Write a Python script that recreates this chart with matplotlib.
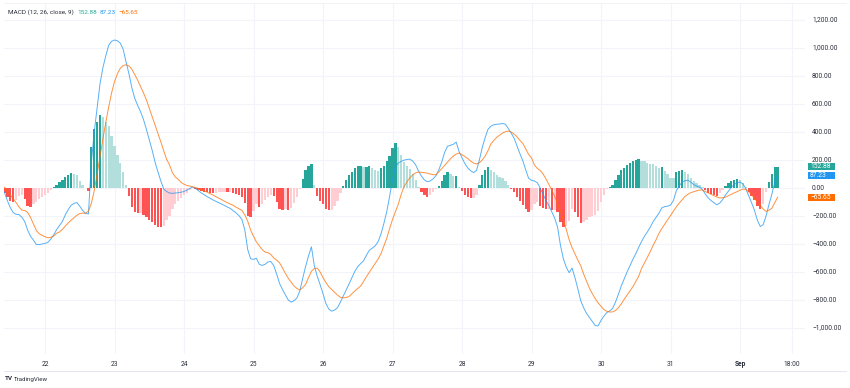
import matplotlib
matplotlib.use("Agg")
import matplotlib.pyplot as plt
from matplotlib.patches import Rectangle
from matplotlib.lines import Line2D
import numpy as np

plt.rcParams['font.family'] = ['Roboto', 'DejaVu Sans']

W, H = 850, 388

# ---- data (hourly bars, Aug 21 10:00 -> Sep 1 13:00) ----
start_day = 21 + 10 / 24.0

macd = [
    -30, -90, -140, -175, -188, -190, -208, -240, -300, -345,
    -372, -403, -405, -400, -396, -388, -365, -335, -298, -268,
    -240, -192, -155, -124, -110, -104, -130, -160, -182, -185,
    180, 400, 575, 745, 860, 945, 1020, 1048, 1057, 1052,
    1035, 990, 900, 815, 715, 640, 590, 545, 490, 420,
    345, 270, 185, 115, 50, -8, -25, -36, -38, -36,
    -34, -30, -25, -15, -3, 7, -3, -20, -36, -48,
    -62, -73, -85, -95, -105, -115, -125, -136, -146, -163,
    -178, -198, -225, -300, -440, -505, -510, -502, -545, -553,
    -545, -528, -525, -555, -615, -682, -725, -762, -800, -815,
    -805, -785, -735, -645, -560, -485, -420, -555, -630, -690,
    -755, -825, -865, -880, -872, -855, -815, -772, -728, -685,
    -640, -595, -562, -540, -520, -480, -445, -430, -413, -385,
    -330, -255, -170, -60, 60, 150, 178, 190, 199, 204,
    206, 192, 165, 120, 85, 58, 45, 50, 65, 88,
    130, 185, 255, 298, 305, 312, 328, 260, 215, 174,
    143, 123, 110, 125, 200, 290, 360, 420, 442, 452,
    455, 457, 461, 455, 425, 392, 355, 300, 245, 195,
    130, 70, 55, 50, 38, 0, -45, -88, -125, -170,
    -215, -280, -410, -505, -565, -605, -572, -640, -720, -805,
    -855, -895, -925, -953, -982, -985, -946, -915, -890, -878,
    -860, -815, -760, -700, -650, -600, -555, -510, -470, -425,
    -382, -345, -314, -280, -240, -210, -180, -142, -133, -130,
    -122, -90, -20, 15, 42, 52, 56, 42, 25, 14,
    5, -10, -42, -70, -90, -105, -120, -108, -83, -50,
    -22, 5, 25, 38, 42, 30, -5, -55, -105, -160,
    -230, -275, -262, -200, -118, -45, 43, 87.23,
]

signal = [
    5, -25, -50, -75, -103, -135, -158, -160, -175, -210,
    -257, -303, -327, -338, -348, -355, -353, -343, -323, -314,
    -295, -272, -250, -230, -212, -195, -182, -180, -180, -165,
    -110, -20, 100, 225, 350, 470, 580, 680, 760, 815,
    855, 875, 880, 872, 848, 810, 770, 725, 680, 630,
    570, 510, 448, 390, 330, 265, 205, 165, 110, 78,
    62, 40, 27, 18, 14, 8, 4, -4, -12, -20,
    -30, -40, -50, -62, -73, -83, -95, -105, -115, -124,
    -137, -148, -160, -192, -237, -300, -345, -385, -412, -440,
    -458, -462, -475, -500, -515, -535, -570, -610, -645, -672,
    -700, -718, -728, -712, -688, -640, -595, -575, -572, -600,
    -640, -675, -705, -725, -745, -765, -780, -785, -782, -775,
    -755, -735, -718, -700, -668, -633, -602, -570, -540, -508,
    -470, -415, -360, -290, -225, -170, -115, -45, 10, 45,
    72, 95, 108, 114, 112, 109, 106, 100, 95, 95,
    115, 138, 162, 185, 208, 228, 242, 250, 238, 225,
    210, 192, 178, 172, 180, 200, 228, 268, 315, 340,
    362, 378, 393, 402, 407, 400, 385, 366, 340, 318,
    280, 240, 215, 165, 140, 125, 100, 65, 25, -15,
    -60, -110, -165, -230, -295, -370, -425, -470, -515, -555,
    -615, -665, -715, -755, -790, -820, -845, -868, -880, -886,
    -885, -875, -855, -828, -795, -765, -735, -705, -668, -632,
    -575, -535, -495, -455, -410, -370, -325, -290, -258, -228,
    -197, -165, -135, -108, -85, -60, -45, -33, -27, -20,
    -15, -14, -25, -35, -45, -55, -64, -71, -70, -65,
    -55, -45, -35, -26, -16, -8, -10, -28, -48, -75,
    -100, -125, -150, -168, -158, -145, -105, -65.65,
]

n = min(len(macd), len(signal))
macd = np.array(macd[:n], dtype=float)
signal = np.array(signal[:n], dtype=float)
hist = macd - signal
xs = start_day + np.arange(n) / 24.0

day_ticks = [22, 23, 24, 25, 26, 27, 28, 29, 30, 31, 32, 32.75]
day_labels = ["22", "23", "24", "25", "26", "27", "28", "29", "30", "31", "Sep", "18:00"]
y_ticks = [1200, 1000, 800, 600, 400, 200, 0, -200, -400, -600, -800, -1000]

# colours
C_UP_GROW, C_UP_FALL = "#26A69A", "#B2DFDB"
C_DN_GROW, C_DN_FALL = "#FF5252", "#FFCDD2"
C_MACD, C_SIG = "#2196F3", "#FF6D00"
GRID = "#f2f4f9"
TXT = "#2a2e39"

colors = []
for i, h in enumerate(hist):
    p = hist[i - 1] if i > 0 else 0.0
    if h >= 0:
        colors.append(C_UP_GROW if h > p else C_UP_FALL)
    else:
        colors.append(C_DN_GROW if h < p else C_DN_FALL)

# ---- geometry (pixel based) ----
PANE_L, PANE_R, PANE_T, PANE_B = 4, 805, 3, 354
def px2day(px):
    return 22 + (px - 45) / 69.5
def py2val(py):
    return (188 - py) / 0.14

fig = plt.figure(figsize=(W / 100, H / 100), dpi=100)
fig.patch.set_facecolor("white")
ax = fig.add_axes([PANE_L / W, 1 - PANE_B / H, (PANE_R - PANE_L) / W, (PANE_B - PANE_T) / H])
ax.set_xlim(px2day(PANE_L), px2day(PANE_R))
ax.set_ylim(py2val(PANE_B), py2val(PANE_T))
for s in ax.spines.values():
    s.set_visible(False)
ax.set_xticks([])
ax.set_yticks([])

for v in y_ticks:
    ax.axhline(v, color=GRID, lw=0.8, zorder=0)
for d in day_ticks:
    ax.axvline(d, color=GRID, lw=0.8, zorder=0)

ax.bar(xs, hist, width=0.8 / 24, color=colors, linewidth=0, zorder=2)
ax.plot(xs, macd, color=C_MACD, lw=0.7, alpha=0.75, zorder=3)
ax.plot(xs, signal, color=C_SIG, lw=0.7, alpha=0.75, zorder=3)

def fx(px):
    return px / W
def fy(py):
    return 1 - py / H

def fmt(v):
    s = f"{abs(v):,.2f}"
    return ("\u2212" + s) if v < 0 else s

# y labels (right price scale)
for v in y_ticks:
    py = 188 - v * 0.14
    fig.text(fx(812), fy(py), fmt(v), fontsize=4.8, color=TXT, ha="left", va="center")

# x labels
for d, lab in zip(day_ticks, day_labels):
    px = 45 + (d - 22) * 69.5
    fig.text(fx(px), fy(364), lab, fontsize=4.8, color=TXT, ha="center", va="center",
             fontweight="bold" if lab == "Sep" else "normal")

# last value price boxes
last_vals = [(hist[-1], C_UP_GROW), (macd[-1], C_MACD), (signal[-1], C_SIG)]
for v, c in last_vals:
    py = 188 - v * 0.14
    fig.patches.append(Rectangle((fx(808), fy(py + 3.6)), 27 / W, 7.2 / H,
                                 transform=fig.transFigure, facecolor=c, edgecolor="none", zorder=5))
    fig.text(fx(810), fy(py), fmt(v), fontsize=4.8, color="white", ha="left", va="center", zorder=6)

# legend
fig.text(fx(8), fy(12), "MACD (12, 26, close, 9)", fontsize=4.6, color=TXT, ha="left", va="center")
fig.text(fx(77), fy(12), fmt(hist[-1]), fontsize=4.6, color="#22ab94", ha="left", va="center")
fig.text(fx(100), fy(12), fmt(macd[-1]), fontsize=4.6, color=C_MACD, ha="left", va="center")
fig.text(fx(118), fy(12), fmt(signal[-1]), fontsize=4.6, color=C_SIG, ha="left", va="center")

# frame lines
fig.lines.append(Line2D([fx(4), fx(846)], [fy(371), fy(371)], transform=fig.transFigure,
                        color="#e0e3eb", lw=0.6))
fig.lines.append(Line2D([fx(4), fx(846)], [fy(2.5), fy(2.5)], transform=fig.transFigure,
                        color="#eef0f4", lw=0.6))

# TradingView mark
fig.text(fx(5), fy(379), "TV", fontsize=4.6, color=TXT, fontweight="bold", ha="left", va="center")
fig.text(fx(14), fy(379), "TradingView", fontsize=4.4, color=TXT, ha="left", va="center")

fig.savefig("out.png", dpi=100, facecolor="white")
